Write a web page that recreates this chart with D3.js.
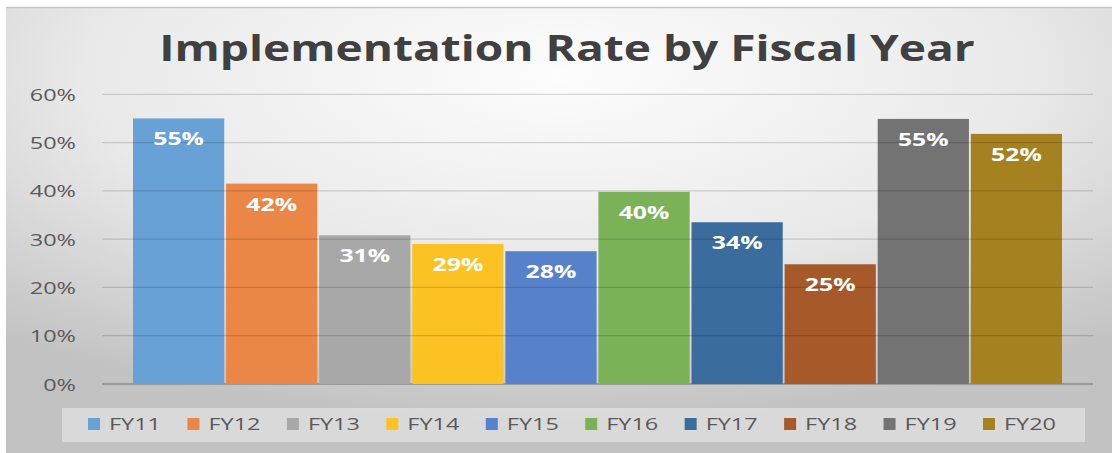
<!DOCTYPE html>
<html>
<head>
<meta charset="utf-8">
<script src="https://cdn.jsdelivr.net/npm/d3@7"></script>
<style>
  body { margin: 0; background: #fff; }
  svg { display: block; }
</style>
</head>
<body>
<script>
const width = 1118;
const height = 453;

// data
const years = ["FY11", "FY12", "FY13", "FY14", "FY15", "FY16", "FY17", "FY18", "FY19", "FY20"];
const rates = [0.55, 0.415, 0.308, 0.29, 0.275, 0.398, 0.335, 0.248, 0.549, 0.518];
const yTicks = [0, 0.1, 0.2, 0.3, 0.4, 0.5, 0.6];
const colors = ["#67a1d6", "#ea8646", "#a8a8a8", "#fcc224", "#5881cb", "#7bb258", "#3a6d9e", "#a75a29", "#737373", "#a5821f"];
const title = "Implementation Rate by Fiscal Year";

// the picture is stretched sideways, so text is too
const sx = 1.38;
const titleSx = 1.28;

const svg = d3.select("body")
  .append("svg")
  .attr("width", width)
  .attr("height", height);

const defs = svg.append("defs");
const grad = defs.append("radialGradient")
  .attr("id", "bg")
  .attr("cx", "50%")
  .attr("cy", "15%")
  .attr("r", "78%");
grad.append("stop").attr("offset", "0%").attr("stop-color", "#fdfdfd");
grad.append("stop").attr("offset", "55%").attr("stop-color", "#e9e9e9");
grad.append("stop").attr("offset", "100%").attr("stop-color", "#c2c2c2");

svg.append("rect")
  .attr("x", 6)
  .attr("y", 7)
  .attr("width", 1106)
  .attr("height", 446)
  .attr("fill", "url(#bg)");
svg.append("line")
  .attr("x1", 6).attr("x2", 1112)
  .attr("y1", 7.5).attr("y2", 7.5)
  .attr("stroke", "#c6c6c6")
  .attr("stroke-width", 1.5);

const x = d3.scaleBand()
  .domain(years)
  .range([133, 1062])
  .paddingInner(0.02);

const y = d3.scaleLinear()
  .domain([0, 0.6])
  .range([384, 94.3]);

const gridLeft = 102;
const gridRight = 1093;

// axis baseline sits under the bars
svg.append("line")
  .attr("x1", gridLeft).attr("x2", gridRight)
  .attr("y1", y(0)).attr("y2", y(0))
  .attr("stroke", "#8a8a8a")
  .attr("stroke-width", 1.5);

svg.selectAll(".bar")
  .data(years)
  .enter()
  .append("rect")
  .attr("class", "bar")
  .attr("x", d => x(d))
  .attr("y", (d, i) => y(rates[i]))
  .attr("width", x.bandwidth())
  .attr("height", (d, i) => y(0) - y(rates[i]))
  .attr("fill", (d, i) => colors[i]);

// gridlines are drawn over the bars, faintly
svg.selectAll(".grid")
  .data(yTicks.filter(d => d > 0))
  .enter()
  .append("line")
  .attr("class", "grid")
  .attr("x1", gridLeft)
  .attr("x2", gridRight)
  .attr("y1", d => y(d))
  .attr("y2", d => y(d))
  .attr("stroke", "rgba(0,0,0,0.15)")
  .attr("stroke-width", 1.2);

const yAxis = svg.append("g")
  .attr("transform", "translate(76,0)")
  .call(d3.axisLeft(y)
    .tickValues(yTicks)
    .tickFormat(d3.format(".0%"))
    .tickSize(0)
    .tickPadding(0));
yAxis.select(".domain").remove();
yAxis.selectAll("text")
  .attr("x", 0)
  .attr("dy", "0.36em")
  .attr("transform", `scale(${sx},1)`)
  .attr("fill", "#595959")
  .style("font-family", "'Open Sans', sans-serif")
  .style("font-size", "17px");

svg.selectAll(".label")
  .data(years)
  .enter()
  .append("text")
  .attr("class", "label")
  .attr("transform", (d, i) => `translate(${x(d) + x.bandwidth() / 2},${y(rates[i]) + 27}) scale(${sx},1)`)
  .attr("text-anchor", "middle")
  .attr("fill", "#ffffff")
  .style("font-family", "'Open Sans', sans-serif")
  .style("font-weight", "bold")
  .style("font-size", "18px")
  .text((d, i) => Math.round(rates[i] * 100) + "%");

svg.append("text")
  .attr("transform", `translate(567,61) scale(${titleSx},1)`)
  .attr("text-anchor", "middle")
  .attr("fill", "#404040")
  .style("font-family", "'Open Sans', sans-serif")
  .style("font-weight", "bold")
  .style("font-size", "36px")
  .text(title);

// legend
svg.append("rect")
  .attr("x", 62)
  .attr("y", 408)
  .attr("width", 1023)
  .attr("height", 34)
  .attr("fill", "rgba(255,255,255,0.38)");

const lx = d3.scalePoint()
  .domain(years)
  .range([88, 983]);

const item = svg.selectAll(".legend")
  .data(years)
  .enter()
  .append("g")
  .attr("class", "legend")
  .attr("transform", d => `translate(${lx(d)},418)`);

item.append("rect")
  .attr("width", 12)
  .attr("height", 12)
  .attr("fill", (d, i) => colors[i]);

item.append("text")
  .attr("transform", `translate(21,12) scale(${sx},1)`)
  .attr("fill", "#595959")
  .style("font-family", "'Open Sans', sans-serif")
  .style("font-size", "17px")
  .text(d => d);
</script>
</body>
</html>
